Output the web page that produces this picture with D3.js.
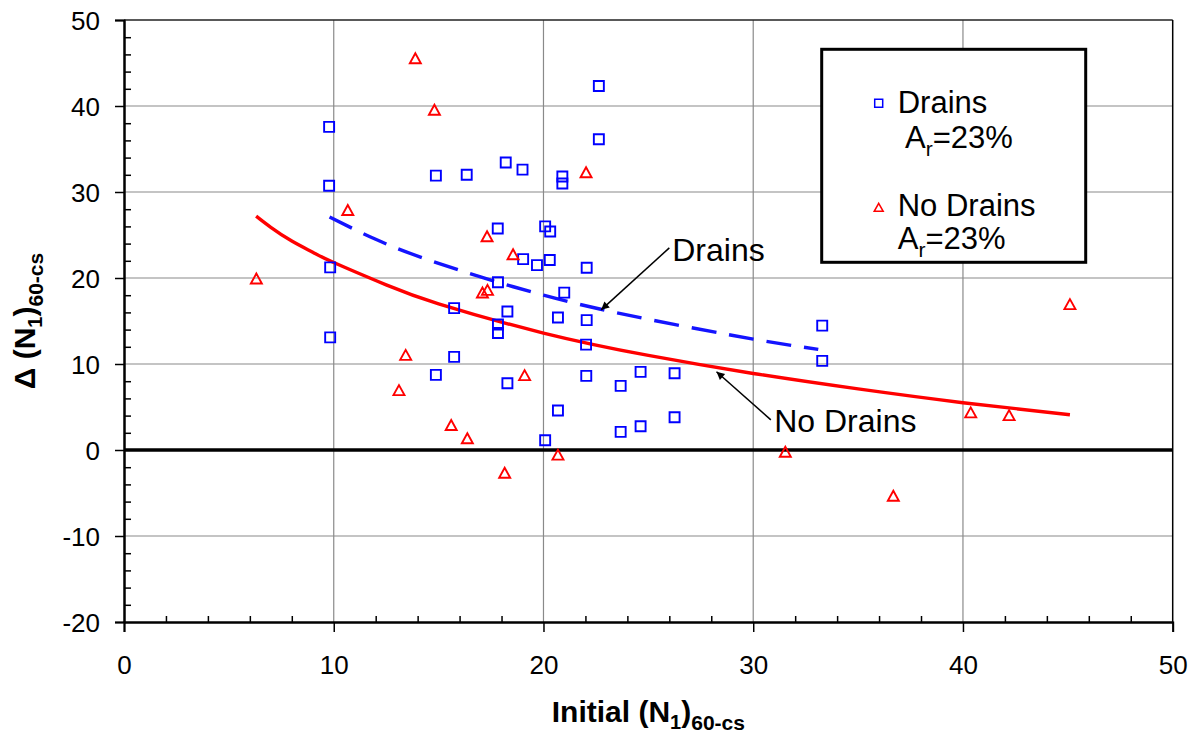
<!DOCTYPE html>
<html>
<head>
<meta charset="utf-8">
<script src="https://cdn.jsdelivr.net/npm/d3@7"></script>
<style>
  body { margin: 0; background: #fff; }
  svg { display: block; font-family: 'Liberation Sans', Arial, sans-serif; }
</style>
</head>
<body>
<div id="chart"></div>
<script>
// Drains, A_r = 23%  [initial (N1)60-cs, delta (N1)60-cs]
const drains = [
  [9.78, 37.57], [9.78, 30.72], [9.83, 21.23], [9.83, 13.1],
  [14.87, 31.9], [16.34, 32.0], [18.2, 33.43], [19.0, 32.6], [20.9, 31.8], [20.9, 30.99],
  [22.64, 42.33], [22.64, 36.14],
  [17.82, 25.76], [20.08, 26.0], [20.32, 25.4],
  [19.03, 22.2], [19.69, 21.5], [20.3, 22.1], [22.06, 21.2],
  [17.83, 19.5], [20.99, 18.3],
  [15.74, 16.5], [18.28, 16.1], [20.69, 15.4], [22.06, 15.1],
  [17.83, 14.6], [17.83, 13.6], [22.03, 12.25],
  [33.29, 14.46], [33.29, 10.36],
  [15.74, 10.83], [14.87, 8.73], [18.28, 7.76], [22.04, 8.62], [23.68, 7.46], [24.63, 9.08], [26.25, 8.92],
  [20.69, 4.59], [20.08, 1.14], [23.68, 2.11], [24.63, 2.76], [26.25, 3.81],
]

// No drains
const noDrains = [
  [6.31, 19.88], [10.67, 27.85], [13.89, 45.5], [14.8, 39.5], [22.03, 32.23],
  [17.31, 24.8], [18.55, 22.7], [17.33, 18.56], [17.09, 18.25],
  [13.43, 11.0], [19.1, 8.65], [13.11, 6.9], [15.6, 2.85], [16.37, 1.3],
  [20.69, -0.6], [18.15, -2.7],
  [31.53, -0.27], [36.68, -5.37], [40.37, 4.32], [42.2, 4.0], [45.1, 16.9],
]

// trend lines
const drainsTrend = [
  [9.8, 27.1], [12, 24.5], [15, 21.7], [20, 18.0], [25, 15.2], [30, 12.9], [33.1, 11.7],
]
const noDrainsTrend = [
  [6.3, 27.2], [7, 25.9], [8, 24.3], [9, 23.0], [10, 21.8], [12.5, 19.2], [15, 17.0],
  [20, 13.6], [25, 11.0], [30, 8.9], [35, 7.1], [40, 5.5], [45.1, 4.1],
]

const xMajor = [0, 10, 20, 30, 40, 50]
const yMajor = [-20, -10, 0, 10, 20, 30, 40, 50]

const annotations = [
  {label: 'Drains', text: [26.14, 21.98], from: [26.0, 23.5], to: [22.75, 16.3]},
  {label: 'No Drains', text: [31.0, 2.06], from: [30.84, 3.5], to: [28.25, 9.1]},
]

const canvasWidth = 1196
const canvasHeight = 739
const margins = {top: 20, right: 23.3, bottom: 117, left: 124}
const width = canvasWidth - margins.left - margins.right
const height = canvasHeight - margins.top - margins.bottom

const blue = '#0000ff'
const red = '#ff0000'

const xScale = d3.scaleLinear().domain([0, 50]).range([0, width])
const yScale = d3.scaleLinear().domain([-20, 50]).range([height, 0])

const svg = d3
  .select('#chart')
  .append('svg')
  .attr('width', canvasWidth)
  .attr('height', canvasHeight)

svg.append('defs')
  .append('marker')
  .attr('id', 'arrow')
  .attr('viewBox', '0 0 10 10')
  .attr('refX', 10)
  .attr('refY', 5)
  .attr('markerWidth', 14)
  .attr('markerHeight', 8)
  .attr('markerUnits', 'userSpaceOnUse')
  .attr('orient', 'auto')
  .append('path')
  .attr('d', 'M0,0 L10,5 L0,10 z')
  .attr('fill', '#000')

const g = svg.append('g')
  .attr('transform', `translate(${margins.left}, ${margins.top})`)

// gridlines
g.append('g')
  .selectAll('line')
  .data(xMajor.filter(v => v > 0 && v < 50))
  .enter()
  .append('line')
  .attr('x1', d => xScale(d)).attr('x2', d => xScale(d))
  .attr('y1', 0).attr('y2', height)
  .attr('stroke', '#8a8a8a').attr('stroke-width', 1.2)

g.append('g')
  .selectAll('line')
  .data(yMajor.filter(v => v > -20 && v < 50 && v !== 0))
  .enter()
  .append('line')
  .attr('y1', d => yScale(d)).attr('y2', d => yScale(d))
  .attr('x1', 0).attr('x2', width)
  .attr('stroke', '#8a8a8a').attr('stroke-width', 1.2)

// frame
g.append('line')
  .attr('x1', 0).attr('x2', width).attr('y1', 0).attr('y2', 0)
  .attr('stroke', '#222').attr('stroke-width', 1.5)
g.append('line')
  .attr('x1', width).attr('x2', width).attr('y1', 0).attr('y2', height)
  .attr('stroke', '#000').attr('stroke-width', 1.5)

// zero line
g.append('line')
  .attr('x1', 0).attr('x2', width)
  .attr('y1', yScale(0)).attr('y2', yScale(0))
  .attr('stroke', '#000').attr('stroke-width', 3.5)

// axes
const minorX = d3.range(0, 51, 2).filter(v => v % 10 !== 0)
const minorY = d3.range(-20, 51, 2).filter(v => v % 10 !== 0)

const styleAxis = sel => {
  sel.select('.domain').attr('stroke', '#000').attr('stroke-width', 2)
  sel.selectAll('.tick line').attr('stroke', '#000').attr('stroke-width', 1.5)
  sel.selectAll('text')
    .attr('font-size', 26)
    .attr('font-family', "'Liberation Sans', Arial, sans-serif")
    .attr('fill', '#000')
}

g.append('g')
  .attr('transform', `translate(0, ${height})`)
  .call(d3.axisBottom(xScale).tickValues(minorX).tickSizeInner(-6).tickSizeOuter(0).tickFormat(''))
  .call(styleAxis)
g.append('g')
  .attr('transform', `translate(0, ${height})`)
  .call(d3.axisBottom(xScale).tickValues(xMajor).tickSize(10).tickPadding(24).tickFormat(d => String(d)))
  .call(styleAxis)

g.append('g')
  .call(d3.axisLeft(yScale).tickValues(minorY).tickSizeInner(-7).tickSizeOuter(0).tickFormat(''))
  .call(styleAxis)
g.append('g')
  .call(d3.axisLeft(yScale).tickValues(yMajor).tickSize(9).tickPadding(15).tickFormat(d => String(d)))
  .call(styleAxis)
  .call(sel => sel.selectAll('text').attr('dy', '0.37em'))

// trend lines
const line = d3.line()
  .x(d => xScale(d[0]))
  .y(d => yScale(d[1]))
  .curve(d3.curveNatural)

g.append('path')
  .datum(noDrainsTrend)
  .attr('d', line)
  .attr('fill', 'none')
  .attr('stroke', red)
  .attr('stroke-width', 3.4)

g.append('path')
  .datum(drainsTrend)
  .attr('d', line)
  .attr('fill', 'none')
  .attr('stroke', '#1414ff')
  .attr('stroke-width', 3.4)
  .attr('stroke-dasharray', '25,13')

// markers
const squarePath = 'M-5,-5 H5 V5 H-5 Z'
const trianglePath = 'M0,-5.5 L5.5,4.5 L-5.5,4.5 Z'

g.append('g')
  .selectAll('path')
  .data(drains)
  .enter()
  .append('path')
  .attr('transform', d => `translate(${xScale(d[0])}, ${yScale(d[1])})`)
  .attr('d', squarePath)
  .attr('fill', 'none')
  .attr('stroke', blue)
  .attr('stroke-width', 1.9)

g.append('g')
  .selectAll('path')
  .data(noDrains)
  .enter()
  .append('path')
  .attr('transform', d => `translate(${xScale(d[0])}, ${yScale(d[1])})`)
  .attr('d', trianglePath)
  .attr('fill', 'none')
  .attr('stroke', red)
  .attr('stroke-width', 1.9)

// annotations
annotations.forEach(a => {
  g.append('line')
    .attr('x1', xScale(a.from[0])).attr('y1', yScale(a.from[1]))
    .attr('x2', xScale(a.to[0])).attr('y2', yScale(a.to[1]))
    .attr('stroke', '#000')
    .attr('stroke-width', 1.5)
    .attr('marker-end', 'url(#arrow)')
  g.append('text')
    .attr('x', xScale(a.text[0]))
    .attr('y', yScale(a.text[1]))
    .attr('font-size', 32)
    .attr('fill', '#000')
    .text(a.label)
})

// legend
const legend = svg.append('g').attr('transform', 'translate(821.7, 49.3)')
legend.append('rect')
  .attr('width', 264)
  .attr('height', 213)
  .attr('fill', '#fff')
  .attr('stroke', '#000')
  .attr('stroke-width', 3)

legend.append('path')
  .attr('transform', 'translate(57, 54)')
  .attr('d', 'M-4,-4 H4 V4 H-4 Z')
  .attr('fill', 'none')
  .attr('stroke', blue)
  .attr('stroke-width', 1.5)
legend.append('path')
  .attr('transform', 'translate(57, 158.5)')
  .attr('d', 'M0,-4.5 L4.5,3.5 L-4.5,3.5 Z')
  .attr('fill', 'none')
  .attr('stroke', red)
  .attr('stroke-width', 1.5)

const legendText = (x, y, main) => {
  legend.append('text')
    .attr('x', x).attr('y', y)
    .attr('font-size', 31)
    .text(main)
}
const arText = (x, y) => {
  const t = legend.append('text').attr('x', x).attr('y', y).attr('font-size', 31)
  t.append('tspan').text('A')
  t.append('tspan').attr('font-size', 21).attr('dy', 8).text('r')
  t.append('tspan').attr('dy', -8).text('=23%')
}
legendText(76, 64, 'Drains')
arText(83.3, 99)
legendText(76, 166.7, 'No Drains')
arText(76, 200)

// axis titles
const xt = svg.append('text')
  .attr('x', margins.left + width / 2)
  .attr('y', 721.7)
  .attr('text-anchor', 'middle')
  .attr('font-size', 30)
  .attr('font-weight', 'bold')
xt.append('tspan').text('Initial (N')
xt.append('tspan').attr('font-size', 20).attr('dy', 7).text('1')
xt.append('tspan').attr('dy', -7).text(')')
xt.append('tspan').attr('font-size', 21).attr('dy', 8).text('60-cs')

const yt = svg.append('text')
  .attr('transform', `translate(35, ${margins.top + height / 2}) rotate(-90)`)
  .attr('text-anchor', 'middle')
  .attr('font-size', 30)
  .attr('font-weight', 'bold')
yt.append('tspan').text('Δ (N')
yt.append('tspan').attr('font-size', 20).attr('dy', 7).text('1')
yt.append('tspan').attr('dy', -7).text(')')
yt.append('tspan').attr('font-size', 21).attr('dy', 8).text('60-cs')
</script>
</body>
</html>
